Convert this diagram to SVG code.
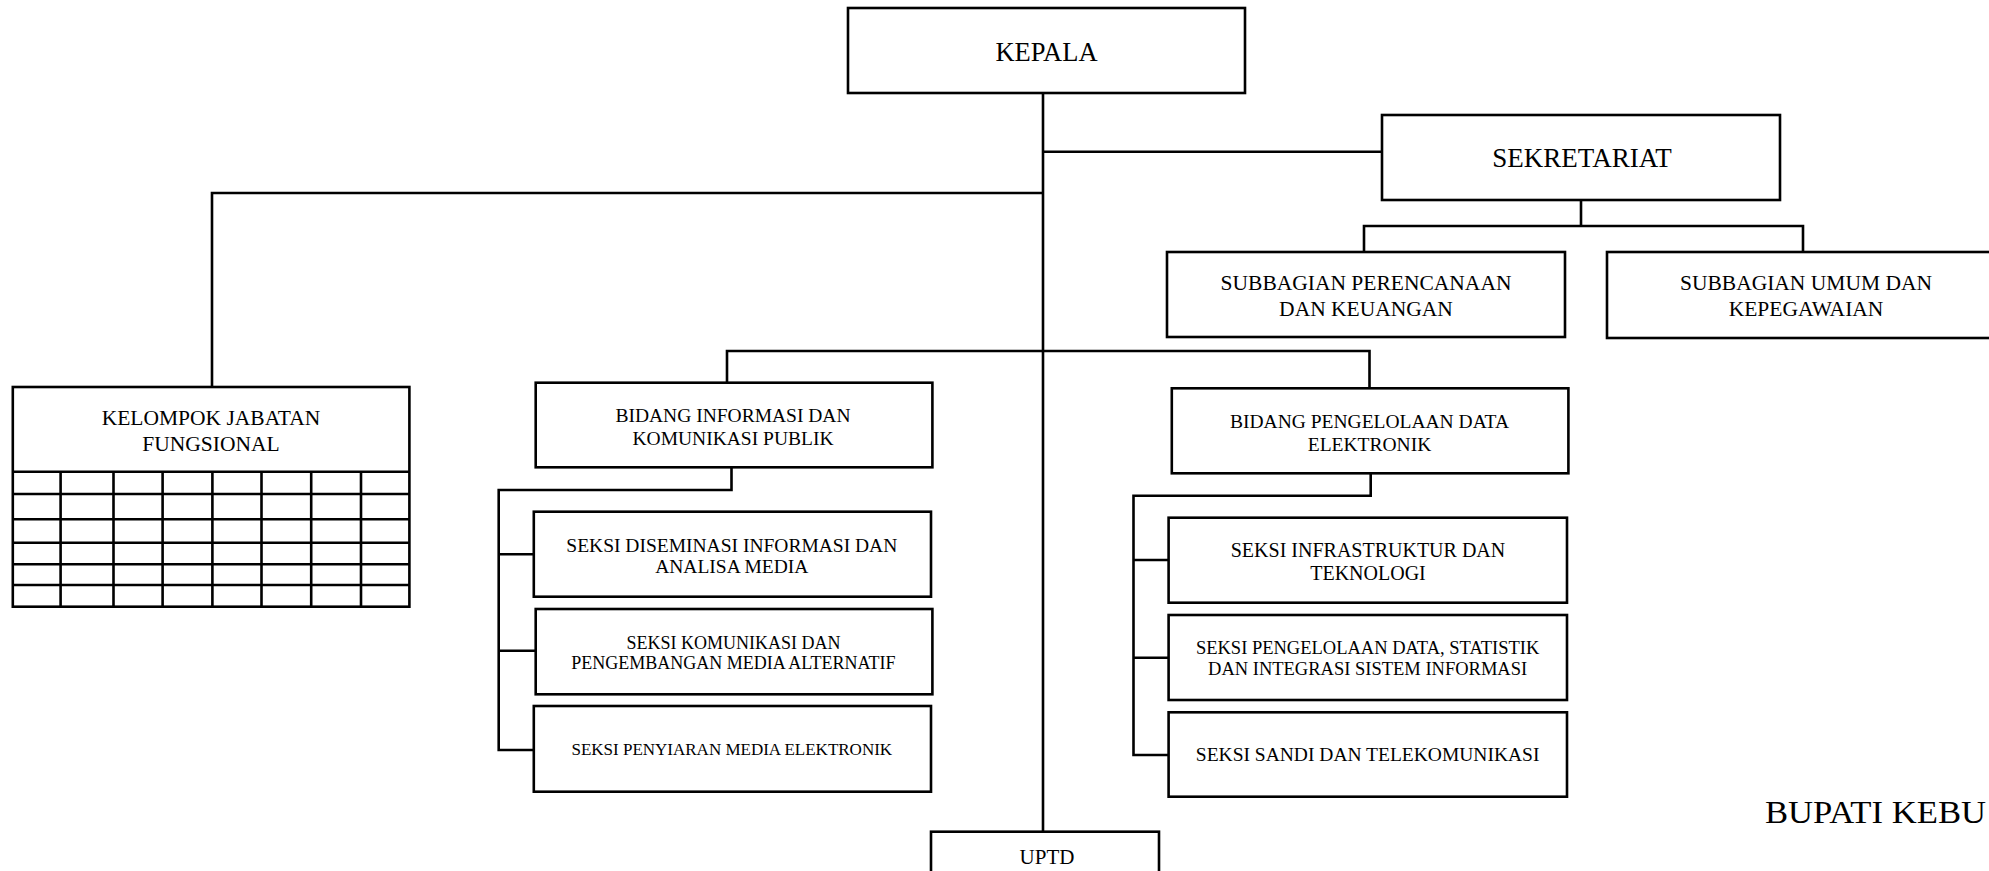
<svg xmlns="http://www.w3.org/2000/svg" width="1989" height="871" viewBox="0 0 1989 871">
<style>
.box{fill:#fff;stroke:#000;stroke-width:2.6}
.ln{fill:none;stroke:#000;stroke-width:2.6}
.t{font-family:"Liberation Serif","Times New Roman",serif;fill:#000;text-anchor:middle}
</style>
<rect width="1989" height="871" fill="#fff"/>
<g id="connectors" class="ln">
<path d="M1043,93 V832"/>
<path d="M1043,151.7 H1382"/>
<path d="M1043,193 H212 V387"/>
<path d="M727,383 V351 H1369.5 V388"/>
<path d="M1581,200 V226"/>
<path d="M1364,252 V226 H1803 V252"/>
<path d="M731.5,467 V490 H498.7 V750 H534"/>
<path d="M498.7,554.3 H534"/>
<path d="M498.7,650.7 H535.7"/>
<path d="M1370.7,473 V495.7 H1133.5 V755 H1168.6"/>
<path d="M1133.5,560 H1168.6"/>
<path d="M1133.5,657.7 H1168.6"/>
</g>
<g id="kepala"><rect class="box" x="848" y="8" width="397" height="85"/><text class="t" x="1046.5" y="60.5" font-size="26.5">KEPALA</text></g>
<g id="sekretariat"><rect class="box" x="1382" y="115" width="398" height="85"/><text class="t" x="1582" y="167" font-size="27">SEKRETARIAT</text></g>
<g id="subbagian-perencanaan"><rect class="box" x="1167" y="252" width="398" height="85"/><text class="t" x="1366" font-size="21.5"><tspan x="1366" y="290">SUBBAGIAN PERENCANAAN</tspan><tspan x="1366" y="315.5">DAN KEUANGAN</tspan></text></g>
<g id="subbagian-umum"><rect class="box" x="1607" y="252" width="398" height="86"/><text class="t" x="1806" font-size="21.5"><tspan x="1806" y="290">SUBBAGIAN UMUM DAN</tspan><tspan x="1806" y="315.5">KEPEGAWAIAN</tspan></text></g>
<g id="kelompok-jabatan-fungsional">
<rect class="box" x="12.8" y="387" width="396.6" height="219.7"/>
<path class="ln" d="M12.8,471.7 H409.4 M12.8,494 H409.4 M12.8,519.3 H409.4 M12.8,542.7 H409.4 M12.8,564.3 H409.4 M12.8,585 H409.4 M60.6,471.7 V606.7 M113.5,471.7 V606.7 M162.6,471.7 V606.7 M212.4,471.7 V606.7 M261.5,471.7 V606.7 M311.2,471.7 V606.7 M361,471.7 V606.7"/>
<text class="t" x="211" font-size="21.5"><tspan x="211" y="425">KELOMPOK JABATAN</tspan><tspan x="211" y="451">FUNGSIONAL</tspan></text>
</g>
<g id="bidang-informasi"><rect class="box" x="535.7" y="382.7" width="396.7" height="84.6"/><text class="t" x="733" font-size="19.5"><tspan x="733" y="421.5">BIDANG INFORMASI DAN</tspan><tspan x="733" y="444.5">KOMUNIKASI PUBLIK</tspan></text></g>
<g id="seksi-diseminasi"><rect class="box" x="533.8" y="511.7" width="397.2" height="85"/><text class="t" x="731.8" font-size="19.5"><tspan x="731.8" y="551.5">SEKSI DISEMINASI INFORMASI DAN</tspan><tspan x="731.8" y="573">ANALISA MEDIA</tspan></text></g>
<g id="seksi-komunikasi"><rect class="box" x="535.7" y="609" width="396.7" height="85.3"/><text class="t" x="733.4" font-size="18"><tspan x="733.4" y="648.6">SEKSI KOMUNIKASI DAN</tspan><tspan x="733.4" y="669.2">PENGEMBANGAN MEDIA ALTERNATIF</tspan></text></g>
<g id="seksi-penyiaran"><rect class="box" x="533.8" y="706" width="397.2" height="85.7"/><text class="t" x="731.8" y="754.6" font-size="17">SEKSI PENYIARAN MEDIA ELEKTRONIK</text></g>
<g id="bidang-pengelolaan"><rect class="box" x="1171.8" y="388.3" width="396.6" height="85"/><text class="t" x="1369.5" font-size="19.5"><tspan x="1369.5" y="428">BIDANG PENGELOLAAN DATA</tspan><tspan x="1369.5" y="450.5">ELEKTRONIK</tspan></text></g>
<g id="seksi-infrastruktur"><rect class="box" x="1168.6" y="517.7" width="398.4" height="85"/><text class="t" x="1368" font-size="20"><tspan x="1368" y="557.3">SEKSI INFRASTRUKTUR DAN</tspan><tspan x="1368" y="580">TEKNOLOGI</tspan></text></g>
<g id="seksi-pengelolaan-data"><rect class="box" x="1168.6" y="615" width="398.4" height="85"/><text class="t" x="1367.6" font-size="18.5"><tspan x="1367.6" y="654.4">SEKSI PENGELOLAAN DATA, STATISTIK</tspan><tspan x="1367.6" y="675.1">DAN INTEGRASI SISTEM INFORMASI</tspan></text></g>
<g id="seksi-sandi"><rect class="box" x="1168.6" y="712.3" width="398.4" height="84.4"/><text class="t" x="1367.6" y="761.4" font-size="19.5">SEKSI SANDI DAN TELEKOMUNIKASI</text></g>
<g id="uptd"><rect class="box" x="931" y="831.7" width="228" height="70"/><text class="t" x="1047" y="864" font-size="21">UPTD</text></g>
<text x="1765" y="823" font-family="Liberation Serif, Times New Roman, serif" font-size="32" fill="#000" textLength="221" lengthAdjust="spacingAndGlyphs">BUPATI KEBU</text>
</svg>
